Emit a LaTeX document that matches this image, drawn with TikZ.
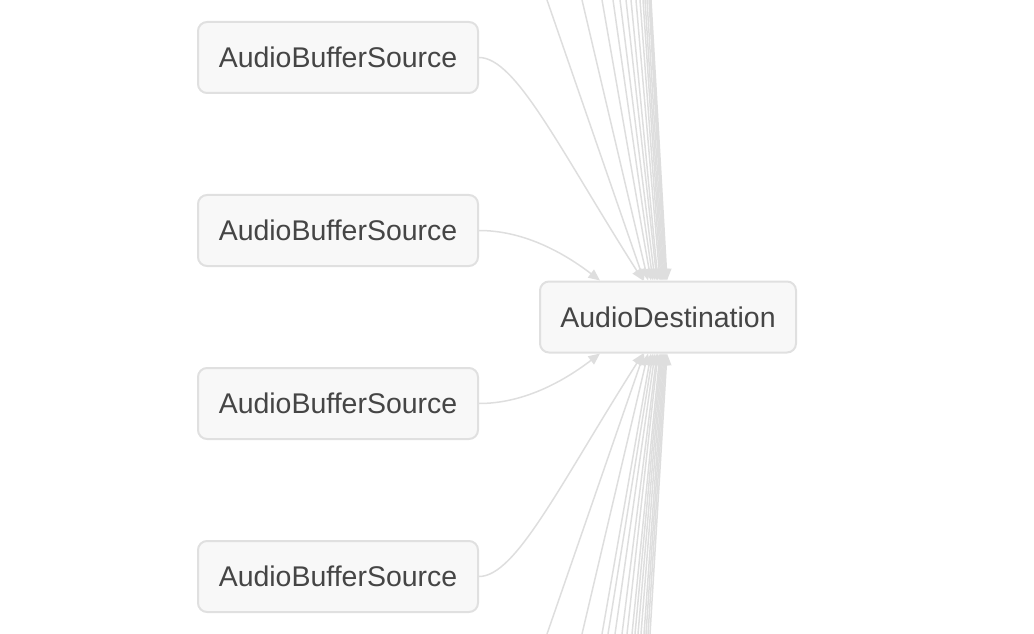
\documentclass[tikz,border=0pt]{standalone}
\usepackage{fontspec}
\setmainfont{Liberation Sans}
\usetikzlibrary{arrows.meta,positioning,calc}

\definecolor{edgegray}{HTML}{DEDEDE}
\definecolor{boxline}{HTML}{E0E0E0}
\definecolor{boxfill}{HTML}{F8F8F8}
\definecolor{boxtext}{HTML}{454545}

\begin{document}
\begin{tikzpicture}[
    >={Triangle[length=2.3mm,width=2mm]},
    audionode/.style={
        rectangle,
        rounded corners=1.8mm,
        draw=boxline,
        fill=boxfill,
        line width=0.4mm,
        text=boxtext,
        font=\fontsize{16.2}{19}\selectfont,
        minimum height=1.42cm,
        inner sep=0pt
    },
    source/.style={audionode, minimum width=5.6cm},
    dest/.style={audionode, minimum width=5.12cm},
    link/.style={->, draw=edgegray, line width=0.3mm}
]

\useasboundingbox (0,0) rectangle (20.68,-12.68);

% Buffer sources (left column)
\node[source] (abs1) at (6.76,-1.15)  {AudioBufferSource};
\node[source] (abs2) at (6.76,-4.61)  {AudioBufferSource};
\node[source] (abs3) at (6.76,-8.07)  {AudioBufferSource};
\node[source] (abs4) at (6.76,-11.53) {AudioBufferSource};

% Destination
\node[dest] (dest) at (13.36,-6.34) {AudioDestination};

% Sources above the visible area, converging on the top side
\foreach \sx/\ex [count=\i] in {10.94/-0.48, 11.64/-0.40, 12.04/-0.34, 12.26/-0.30,
        12.40/-0.26, 12.52/-0.22, 12.62/-0.20, 12.72/-0.16, 12.80/-0.14, 12.86/-0.12,
        12.90/-0.10, 12.94/-0.08, 12.98/-0.06, 13.00/-0.04, 13.02/-0.02} {
    \coordinate (above\i) at (\sx,0);
    \draw[link] (above\i) -- ([xshift=\ex cm]dest.north);
}

% Sources below the visible area, converging on the bottom side
\foreach \sx/\ex [count=\i] in {10.94/-0.48, 11.64/-0.40, 12.04/-0.34, 12.16/-0.30,
        12.30/-0.26, 12.44/-0.22, 12.54/-0.20, 12.64/-0.16, 12.70/-0.14, 12.76/-0.12,
        12.82/-0.10, 12.88/-0.08, 12.92/-0.06, 12.96/-0.04, 13.00/-0.02} {
    \coordinate (below\i) at (\sx,-12.68);
    \draw[link] (below\i) -- ([xshift=\ex cm]dest.south);
}

% Buffer sources into the destination
\draw[link] (abs1.east) .. controls +(0.74,0) and (11.2,-3.0) .. ([xshift=-0.5cm]dest.north);
\draw[link] (abs2.east) .. controls +(0.84,0) and (11.2,-5.0) .. ([xshift=-1.36cm]dest.north);
\draw[link] (abs3.east) .. controls +(0.84,0) and (11.2,-7.68) .. ([xshift=-1.36cm]dest.south);
\draw[link] (abs4.east) .. controls +(0.74,0) and (11.2,-9.68) .. ([xshift=-0.5cm]dest.south);

\end{tikzpicture}
\end{document}
